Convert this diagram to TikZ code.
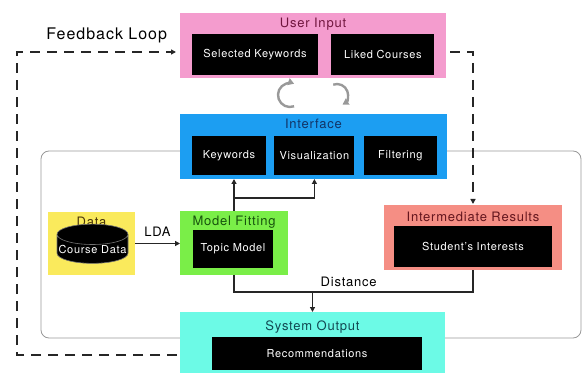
\documentclass[tikz,border=0pt]{standalone}
\usepackage{fontspec}
\setmainfont{TeX Gyre Heros}[LetterSpace=6]
\usetikzlibrary{arrows.meta,positioning,shapes.geometric,calc}
\definecolor{boxpink}{RGB}{244,156,206}
\definecolor{boxblue}{RGB}{28,158,242}
\definecolor{boxyellow}{RGB}{250,234,92}
\definecolor{boxgreen}{RGB}{122,238,72}
\definecolor{boxsalmon}{RGB}{245,142,132}
\definecolor{boxcyan}{RGB}{108,250,230}
\definecolor{inkpink}{RGB}{112,22,62}
\definecolor{inkblue}{RGB}{18,52,102}
\definecolor{inkyellow}{RGB}{72,52,10}
\definecolor{inkgreen}{RGB}{22,82,12}
\definecolor{inksalmon}{RGB}{100,22,30}
\definecolor{inkcyan}{RGB}{18,72,82}

\begin{document}
\begin{tikzpicture}[x=1pt, y=1pt,
    panel/.style={rectangle, inner sep=0pt, outer sep=0pt},
    tile/.style={rectangle, fill=black, text=white, inner sep=0pt,
        font=\fontsize{11}{12}\selectfont},
    heading/.style={inner sep=0pt, font=\fontsize{13}{14}\selectfont},
    label/.style={inner sep=0pt, font=\fontsize{13}{14}\selectfont},
    arr/.style={-{Triangle[length=5pt,width=5pt]}, line width=1.3pt, draw=black!85},
    link/.style={line width=1.3pt, draw=black!85},
    darr/.style={-{Triangle[length=5pt,width=5pt]}, line width=1.5pt,
        dash pattern=on 10pt off 7pt, draw=black!85},
    turn/.style={-{Triangle[length=6pt,width=7pt]}, line width=2.4pt, draw=black!40}
]
\useasboundingbox (0,0) rectangle (582,373);

% frame round the core
\draw[draw=black!40, line width=0.8pt, rounded corners=8pt] (41,35) rectangle (581,222);

% user input
\node[panel, fill=boxpink, minimum width=266pt, minimum height=65pt] (ui) at (313,327.5) {};
\node[heading, text=inkpink] (uihead) at ([yshift=-11pt]ui.north) {User Input};
\node[tile, minimum width=126pt, minimum height=41pt] (sk) at (255,318.5) {Selected Keywords};
\node[tile, minimum width=103pt, minimum height=41pt, right=13pt of sk] (lc) {Liked Courses};

\draw[turn] (290,278) ++(290:12) arc[start angle=290, end angle=70, radius=12];
\draw[turn] (337,278) ++(110:11) arc[start angle=110, end angle=-60, radius=11];

% interface
\node[panel, fill=boxblue, minimum width=267pt, minimum height=65pt] (iface) at (313.5,226.5) {};
\node[heading, text=inkblue] (ifhead) at ([yshift=-10pt]iface.north) {Interface};
\node[tile, minimum width=74pt, minimum height=39pt] (kw) at (229,217.5) {Keywords};
\node[tile, minimum width=80pt, minimum height=39pt, right=8pt of kw] (vis) {Visualization};
\node[tile, minimum width=73pt, minimum height=39pt, right=9pt of vis] (fil) {Filtering};

% data
\node[panel, fill=boxyellow, minimum width=87pt, minimum height=63pt] (data) at (91.5,129.5) {};
\node[heading, text=inkyellow] (datahead) at ([yshift=-10pt]data.north) {Data};
\node[cylinder, shape border rotate=90, aspect=0.3, fill=black, draw=black!55, line width=0.6pt,
    text=white, inner sep=0pt, minimum width=71pt, minimum height=38pt,
    font=\fontsize{11}{12}\selectfont] (cdata) at (92.5,124) {Course Data};

% model fitting
\node[panel, fill=boxgreen, minimum width=108pt, minimum height=64pt] (mf) at (234,130) {};
\node[heading, text=inkgreen] (mfhead) at ([yshift=-11pt]mf.north) {Model Fitting};
\node[tile, minimum width=80pt, minimum height=38pt] (tm) at (233,124) {Topic Model};

% intermediate results
\node[panel, fill=boxsalmon, minimum width=178pt, minimum height=65pt] (ir) at (473,135.5) {};
\node[heading, text=inksalmon] (irhead) at ([yshift=-12pt]ir.north) {Intermediate Results};
\node[tile, minimum width=158pt, minimum height=41pt] (si) at (473,126.5) {Student's Interests};

% system output
\node[panel, fill=boxcyan, minimum width=265pt, minimum height=61pt] (so) at (312.5,30.5) {};
\node[heading, text=inkcyan] (sohead) at ([yshift=-15pt]so.north) {System Output};
\node[tile, minimum width=210pt, minimum height=33pt] (rec) at (317,19.5) {Recommendations};

\draw[arr] (data.east) -- node[label, above=6pt] (lda) {LDA} (data.east -| mf.west);
\draw[arr] (mf.north) -- (mf.north |- iface.south);
\draw[arr] ([yshift=13pt]mf.north) -| (vis.south |- iface.south);

\coordinate (dist) at ([yshift=-17pt]mf.south);
\draw[link] (mf.south) -- (dist) -| node[label, pos=0.24, above=5pt] (distlbl) {Distance} (ir.south);
\draw[arr] (dist -| so.north) -- (so.north);

\draw[darr, shorten <=4pt, shorten >=1pt] ([yshift=-6.5pt]ui.east) -| (ir.north);

\coordinate (loop) at (17,321);
\draw[darr, shorten <=3pt, shorten >=4pt] ([yshift=-12.5pt]so.west) -| (loop)
    -- node[pos=0.55, above=8pt, inner sep=0pt, font=\fontsize{16}{17}\selectfont] (fbl) {Feedback Loop}
    ([yshift=-6.5pt]ui.west);
\end{tikzpicture}
\end{document}
